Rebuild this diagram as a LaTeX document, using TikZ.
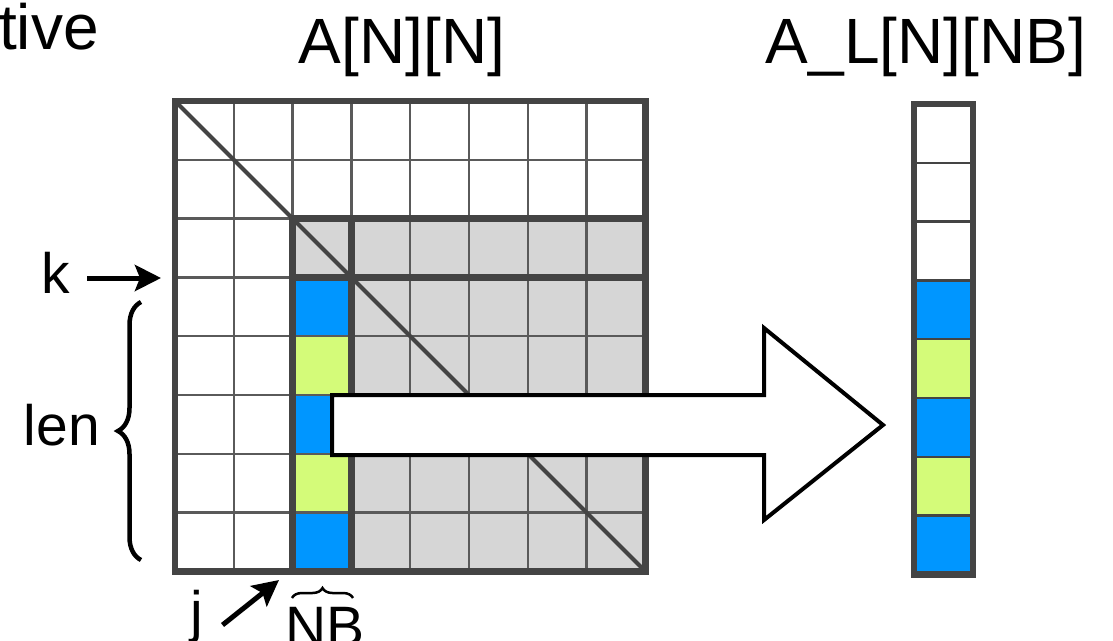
\documentclass[tikz,border=0pt]{standalone}
\usepackage{fontspec}
\setmainfont{Liberation Sans}
\usetikzlibrary{arrows.meta,decorations.pathreplacing,positioning}

\definecolor{framegray}{HTML}{444444}
\definecolor{linegray}{HTML}{5A5A5A}
\definecolor{panelgray}{HTML}{D6D6D6}
\definecolor{aqua}{HTML}{0096FF}
\definecolor{honeydew}{HTML}{D4FB79}

\begin{document}
\begin{tikzpicture}[
    x=1pt, y=-1pt,
    title/.style={inner sep=0pt, anchor=base, font=\fontsize{64}{70}\selectfont},
    tag/.style={inner sep=0pt, anchor=base, font=\fontsize{57}{60}\selectfont},
    gridline/.style={draw=linegray, line width=2.5pt},
    frame/.style={draw=framegray, line width=6.5pt, line cap=rect},
    diag/.style={draw=framegray, line width=4pt},
    ptr/.style={line width=5pt, -{Stealth[length=26pt, width=26pt, inset=5pt]}},
    curly/.style={line width=4.5pt, decorate, decoration={brace, amplitude=#1}},
    bigarrow/.style={draw=black, fill=white, line width=4pt, line join=miter}
]
\path[use as bounding box] (0,0) rectangle (1113,640);

% Matrix A[N][N]
\begin{scope}[shift={(175,101)}, x=58.8pt, y=-58.8pt]
  \fill[panelgray] (2,2) rectangle (8,8);
  \foreach \r/\col in {3/aqua, 4/honeydew, 5/aqua, 6/honeydew, 7/aqua}
    \fill[\col] (2,\r) rectangle (3,\r+1);
  \foreach \i in {1,...,7} {
    \draw[gridline] (\i,0) -- (\i,8);
    \draw[gridline] (0,\i) -- (8,\i);
  }
  \draw[diag] (0,0) -- (8,8);
  \draw[frame] (2,8) -- (2,2) -- (8,2);
  \draw[frame] (2,3) -- (8,3);
  \draw[frame] (3,2) -- (3,8);
  \draw[frame] (0,0) rectangle (8,8);
\end{scope}

% Copy arrow
\draw[bigarrow] (332,395) -- (764,395) -- (764,328) -- (883,425)
  -- (764,520) -- (764,455) -- (332,455) -- cycle;

% Panel A_L[N][NB]
\begin{scope}[shift={(914,104)}, x=58.8pt, y=-58.8pt]
  \foreach \r/\col in {3/aqua, 4/honeydew, 5/aqua, 6/honeydew, 7/aqua}
    \fill[\col] (0,\r) rectangle (1,\r+1);
  \foreach \i in {1,...,7}
    \draw[gridline, draw=framegray] (0,\i) -- (1,\i);
  \draw[frame] (0,0) rectangle (1,8);
\end{scope}

% Labels
\node[title, anchor=base east] (tivetext) at (99,49) {tive};
\node[title] (atitle) at (402,63) {A[N][N]};
\node[title] (altitle) at (926,63) {A\_L[N][NB]};
\node[tag] (k) at (56,293) {k};
\node[tag] (len) at (62,445) {len};
\node[tag] (j) at (197,631) {j};
\node[tag] (nb) at (325,646) {NB};

\coordinate (kend) at (161,278);
\coordinate (jend) at (279,580);
\draw[ptr] ([shift={(17pt,15pt)}]k.base east) -- (kend);
\draw[ptr] ([shift={(19pt,6pt)}]j.base east) -- (jend);

% Braces
\draw[curly=23pt] (141,560) -- (141,302);
\draw[curly=10pt, line width=2.5pt] (292,598) -- (353,598);

\end{tikzpicture}
\end{document}
